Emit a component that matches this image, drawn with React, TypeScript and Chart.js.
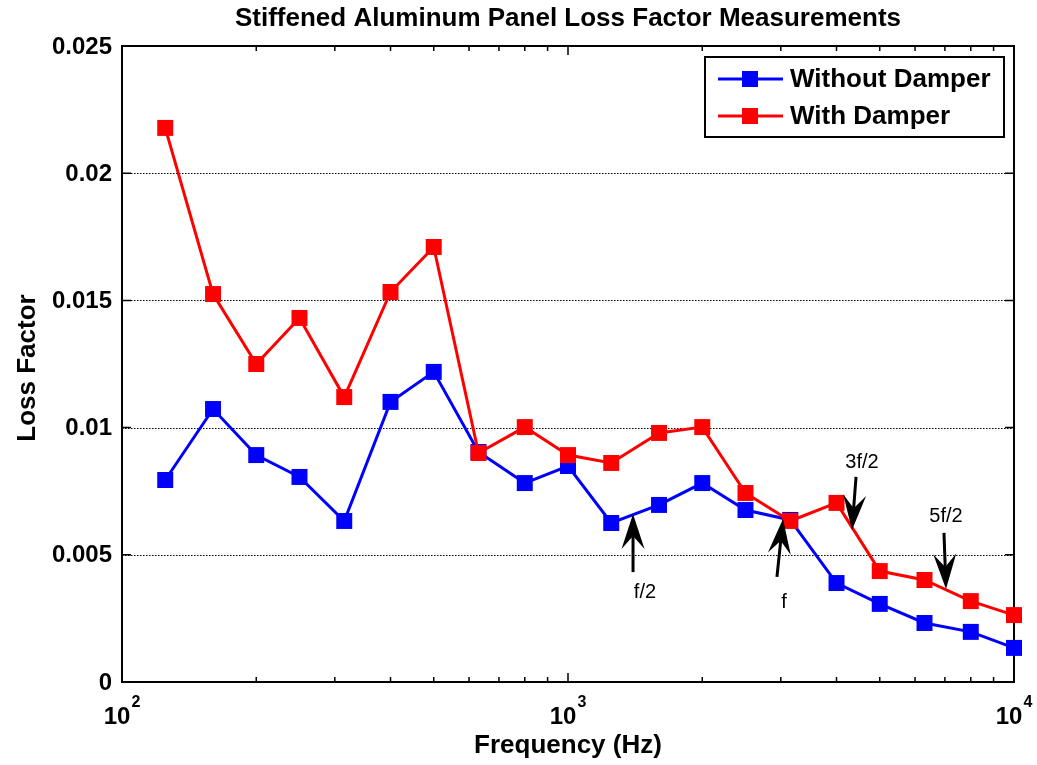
import React, { useEffect, useRef } from "react";
import { Chart, registerables } from "chart.js";

Chart.register(...registerables);

const frequencies = [125, 160, 200, 250, 315, 400, 500, 630, 800, 1000, 1250, 1600, 2000, 2500, 3150, 4000, 5000, 6300, 8000, 10000];
const withoutDamper = [0.00794, 0.01073, 0.00892, 0.00806, 0.00633, 0.01101, 0.01219, 0.00904, 0.00782, 0.00849, 0.00625, 0.00696, 0.00782, 0.00676, 0.00637, 0.00389, 0.00307, 0.00232, 0.00197, 0.00134];
const withDamper = [0.02178, 0.01525, 0.0125, 0.01431, 0.0112, 0.01533, 0.0171, 0.009, 0.01002, 0.00892, 0.00861, 0.00979, 0.01002, 0.00743, 0.00633, 0.00704, 0.00436, 0.00401, 0.00318, 0.00263];

const seriesNames = ["Without Damper", "With Damper"];
const seriesColors = ["#0000ff", "#ff0000"];

const yTicks = [0, 0.005, 0.01, 0.015, 0.02, 0.025];
const yTickLabels = ["0", "0.005", "0.01", "0.015", "0.02", "0.025"];
const xMajorTicks = [100, 1000, 10000];
const xMajorExponents = ["2", "3", "4"];
const xMinorTicks = [200, 300, 400, 500, 600, 700, 800, 900, 2000, 3000, 4000, 5000, 6000, 7000, 8000, 9000];

const chartTitle = "Stiffened Aluminum Panel Loss Factor Measurements";
const xAxisTitle = "Frequency (Hz)";
const yAxisTitle = "Loss Factor";

// annotation arrows in data coordinates: tail -> tip, and label position
const annotationLabels = ["f/2", "f", "3f/2", "5f/2"];
const annotationTails = [[1399, 0.00432], [2941, 0.00413], [4424, 0.00806], [6966, 0.00586]];
const annotationTips = [[1399, 0.0066], [3034, 0.00641], [4333, 0.00597], [7039, 0.00366]];
const annotationTextPos = [[1488, 0.0035], [3050, 0.00314], [4562, 0.00861], [7039, 0.00649]];

const FONT = "'Liberation Sans', Arial, Helvetica, sans-serif";

function drawArrow(ctx: CanvasRenderingContext2D, x1: number, y1: number, x2: number, y2: number) {
  const ang = Math.atan2(y2 - y1, x2 - x1);
  const c = Math.cos(ang);
  const s = Math.sin(ang);
  const L = 35;
  const W = 11.5;
  const N = 22;
  const pt = (d: number, w: number): [number, number] => [x2 - d * c - w * s, y2 - d * s + w * c];
  ctx.save();
  ctx.strokeStyle = "#000";
  ctx.fillStyle = "#000";
  ctx.lineWidth = 3;
  ctx.beginPath();
  ctx.moveTo(x1, y1);
  const n = pt(N, 0);
  ctx.lineTo(n[0], n[1]);
  ctx.stroke();
  ctx.beginPath();
  ctx.moveTo(x2, y2);
  const b1 = pt(L, W);
  const b2 = pt(L, -W);
  ctx.lineTo(b1[0], b1[1]);
  ctx.lineTo(n[0], n[1]);
  ctx.lineTo(b2[0], b2[1]);
  ctx.closePath();
  ctx.fill();
  ctx.restore();
}

const decorPlugin = {
  id: "decor",
  beforeDatasetsDraw(chart: any) {
    const { ctx, chartArea, scales } = chart;
    const { left, right, top, bottom } = chartArea;
    const x = scales.x;
    const y = scales.y;
    ctx.save();
    // dotted horizontal grid
    ctx.strokeStyle = "#000";
    ctx.lineWidth = 1.2;
    ctx.setLineDash([1.5, 1.5]);
    yTicks.forEach((v) => {
      if (v === yTicks[0] || v === yTicks[yTicks.length - 1]) return;
      const py = Math.round(y.getPixelForValue(v)) + 0.5;
      ctx.beginPath();
      ctx.moveTo(left, py);
      ctx.lineTo(right, py);
      ctx.stroke();
    });
    ctx.setLineDash([]);
    // tick marks
    ctx.lineWidth = 1.5;
    const major = 9;
    const minor = 5;
    yTicks.forEach((v) => {
      const py = y.getPixelForValue(v);
      ctx.beginPath();
      ctx.moveTo(left, py);
      ctx.lineTo(left + major, py);
      ctx.moveTo(right, py);
      ctx.lineTo(right - major, py);
      ctx.stroke();
    });
    const xt = (v: number, len: number) => {
      const px = x.getPixelForValue(v);
      ctx.beginPath();
      ctx.moveTo(px, bottom);
      ctx.lineTo(px, bottom - len);
      ctx.moveTo(px, top);
      ctx.lineTo(px, top + len);
      ctx.stroke();
    };
    xMajorTicks.forEach((v) => xt(v, major));
    xMinorTicks.forEach((v) => xt(v, minor));
    // frame
    ctx.lineWidth = 2;
    ctx.strokeRect(left, top, right - left, bottom - top);
    ctx.restore();
  },
  afterDatasetsDraw(chart: any) {
    const { ctx, chartArea, scales } = chart;
    const { right, top } = chartArea;
    const x = scales.x;
    const y = scales.y;
    ctx.save();
    // annotations
    annotationLabels.forEach((lab, i) => {
      const t0 = annotationTails[i];
      const t1 = annotationTips[i];
      drawArrow(ctx, x.getPixelForValue(t0[0]), y.getPixelForValue(t0[1]), x.getPixelForValue(t1[0]), y.getPixelForValue(t1[1]));
      const tp = annotationTextPos[i];
      ctx.fillStyle = "#000";
      ctx.font = `20px ${FONT}`;
      ctx.textAlign = "center";
      ctx.textBaseline = "middle";
      ctx.fillText(lab, x.getPixelForValue(tp[0]), y.getPixelForValue(tp[1]));
    });

    // legend
    const lw = 299;
    const lh = 80;
    const lx = right - 10 - lw;
    const ly = top + 11;
    ctx.fillStyle = "#fff";
    ctx.fillRect(lx, ly, lw, lh);
    ctx.strokeStyle = "#000";
    ctx.lineWidth = 2;
    ctx.strokeRect(lx, ly, lw, lh);
    seriesNames.forEach((name, i) => {
      const cy = ly + 22 + i * 37;
      ctx.strokeStyle = seriesColors[i];
      ctx.lineWidth = 3;
      ctx.beginPath();
      ctx.moveTo(lx + 13, cy);
      ctx.lineTo(lx + 78, cy);
      ctx.stroke();
      ctx.fillStyle = seriesColors[i];
      ctx.fillRect(lx + 45 - 8, cy - 8, 16, 16);
      ctx.fillStyle = "#000";
      ctx.font = `bold 26px ${FONT}`;
      ctx.textAlign = "left";
      ctx.textBaseline = "middle";
      ctx.fillText(name, lx + 85, cy + 1);
    });
    ctx.restore();
  },
  afterDraw(chart: any) {
    const { ctx, chartArea, scales } = chart;
    const { left, right, top, bottom } = chartArea;
    const x = scales.x;
    const y = scales.y;
    ctx.save();
    ctx.fillStyle = "#000";
    // y tick labels
    ctx.font = `bold 24px ${FONT}`;
    ctx.textAlign = "right";
    ctx.textBaseline = "middle";
    yTicks.forEach((v, i) => {
      ctx.fillText(yTickLabels[i], left - 10, y.getPixelForValue(v) + 1);
    });
    // x tick labels with exponents
    xMajorTicks.forEach((v, i) => {
      const px = x.getPixelForValue(v);
      ctx.font = `bold 24px ${FONT}`;
      const wBase = ctx.measureText("10").width;
      ctx.font = `bold 16px ${FONT}`;
      const wExp = ctx.measureText(xMajorExponents[i]).width;
      const start = px - (wBase + wExp + 1) / 2;
      ctx.textAlign = "left";
      ctx.textBaseline = "alphabetic";
      ctx.font = `bold 24px ${FONT}`;
      ctx.fillText("10", start, bottom + 42);
      ctx.font = `bold 16px ${FONT}`;
      ctx.fillText(xMajorExponents[i], start + wBase + 1, bottom + 25);
    });
    // axis titles
    ctx.font = `bold 26px ${FONT}`;
    ctx.textAlign = "center";
    ctx.textBaseline = "middle";
    ctx.fillText(xAxisTitle, (left + right) / 2, bottom + 64);
    ctx.save();
    ctx.translate(28, (top + bottom) / 2 + 4);
    ctx.rotate(-Math.PI / 2);
    ctx.fillText(yAxisTitle, 0, 0);
    ctx.restore();
    // title
    ctx.font = `bold 26px ${FONT}`;
    ctx.fillText(chartTitle, (left + right) / 2, 19);
    ctx.restore();
  },
};

export default function App() {
  const ref = useRef<HTMLCanvasElement | null>(null);
  useEffect(() => {
    document.body.style.margin = "0";
    const canvas = ref.current;
    if (!canvas) return;
    const mk = (vals: number[]) => frequencies.map((f, i) => ({ x: f, y: vals[i] }));
    const chart = new Chart(canvas, {
      type: "line",
      data: {
        datasets: [
          {
            label: seriesNames[0],
            data: mk(withoutDamper),
            borderColor: seriesColors[0],
            backgroundColor: seriesColors[0],
            borderWidth: 3,
            pointStyle: "rect",
            pointRadius: 11.3,
            pointBorderWidth: 0,
            tension: 0,
            clip: false as any,
            order: 1,
          },
          {
            label: seriesNames[1],
            data: mk(withDamper),
            borderColor: seriesColors[1],
            backgroundColor: seriesColors[1],
            borderWidth: 3,
            pointStyle: "rect",
            pointRadius: 11.3,
            pointBorderWidth: 0,
            tension: 0,
            clip: false as any,
            order: 0,
          },
        ],
      },
      options: {
        animation: false,
        responsive: true,
        maintainAspectRatio: false,
        events: [],
        layout: { padding: { left: 122, right: 23, top: 46, bottom: 83 } },
        plugins: {
          legend: { display: false },
          title: { display: false },
          tooltip: { enabled: false },
        },
        scales: {
          x: { type: "logarithmic", min: 100, max: 10000, display: false },
          y: { type: "linear", min: 0, max: 0.025, display: false },
        },
      },
      plugins: [decorPlugin],
    });
    return () => chart.destroy();
  }, []);
  return (
    <div style={{ width: 1037, height: 765, position: "relative", background: "#fff" }}>
      <canvas ref={ref} />
    </div>
  );
}
